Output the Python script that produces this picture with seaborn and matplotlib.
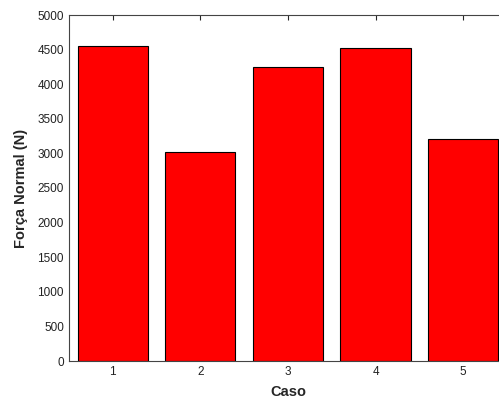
import matplotlib
matplotlib.use("Agg")
import matplotlib.pyplot as plt
import seaborn as sns

casos = ["1", "2", "3", "4", "5"]
forca_normal = [4550, 3020, 4250, 4530, 3215]
yticks = list(range(0, 5001, 500))

sns.set_style("white")
plt.rcParams['font.family'] = ['Liberation Sans', 'DejaVu Sans']

fig = plt.figure(figsize=(4.99, 4.0), dpi=100)
ax = fig.add_axes([0.138, 0.0975, 0.878, 0.865])

sns.barplot(x=casos, y=forca_normal, color="#ff0000", saturation=1,
            edgecolor="black", linewidth=0.8, width=0.8, ax=ax)

ax.set_xlim(-0.5, 4.5)
ax.set_ylim(0, 5000)
ax.set_yticks(yticks)
ax.tick_params(axis="both", direction="in", length=3.5, width=0.8,
               labelsize=8.5, labelcolor="#222222", top=True, right=True)
for s in ax.spines.values():
    s.set_color("#444444")
    s.set_linewidth(0.8)

ax.set_xlabel("Caso", fontsize=10.5, fontweight="bold", labelpad=5)
ax.set_ylabel("Força Normal (N)", fontsize=10.5, fontweight="bold", labelpad=7)

fig.savefig("out.png", dpi=100)
